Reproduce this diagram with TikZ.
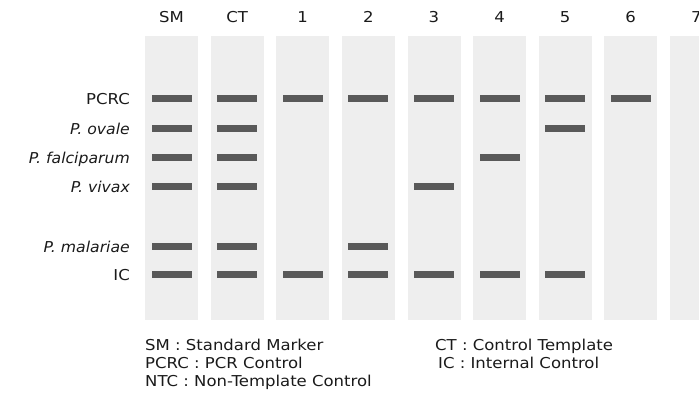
\documentclass[tikz,border=0pt]{standalone}
\usepackage{fontspec}
\setmainfont{DejaVu Sans}[FakeStretch=1.1,ItalicFeatures={FakeStretch=1.045}]
\definecolor{lanegray}{HTML}{EEEEEE}
\definecolor{bandgray}{HTML}{595959}
\definecolor{txt}{HTML}{1A1A1A}
\begin{document}
\begin{tikzpicture}[x=1pt,y=-1pt,
  lane/.style={fill=lanegray, draw=none, minimum width=53pt, minimum height=284pt, inner sep=0pt, anchor=north west},
  band/.style={fill=bandgray, draw=none, minimum width=40pt, minimum height=7pt, inner sep=0pt},
  lbl/.style={font=\fontsize{15}{17}\selectfont, text=txt, inner sep=0pt},
  rowlbl/.style={lbl, anchor=base east},
  head/.style={lbl, anchor=base},
  legend/.style={lbl, anchor=base west}]
\useasboundingbox (0,0) rectangle (699,396);
\clip (0,0) rectangle (699,396);
% lanes
\foreach \i/\name in {0/SM,1/CT,2/L1,3/L2,4/L3,5/L4,6/L5,7/L6,8/L7}{
  \node[lane] (lane\name) at ({145+65.6*\i},36) {};
}
% headers
\foreach \i/\name/\t in {0/SM/SM,1/CT/CT,2/L1/1,3/L2/2,4/L3/3,5/L4/4,6/L5/5,7/L6/6,8/L7/7}{
  \node[head] (head\name) at ({171.5+65.6*\i},22.5) {\t};
}
% row labels
\node[rowlbl] (rPCRC) at (130,104) {PCRC};
\node[rowlbl] (rOv) at (130,134) {\itshape P. ovale};
\node[rowlbl] (rFa) at (130,163) {\itshape P. falciparum};
\node[rowlbl] (rVi) at (130,192) {\itshape P. vivax};
\node[rowlbl] (rMa) at (130,252) {\itshape P. malariae};
\node[rowlbl] (rIC) at (130,280) {IC};
% bands: lane index / row y
\foreach \i/\y [count=\k] in {
  0/98.5,0/128.5,0/157.5,0/186.5,0/246.5,0/274.5,
  1/98.5,1/128.5,1/157.5,1/186.5,1/246.5,1/274.5,
  2/98.5,2/274.5,
  3/98.5,3/246.5,3/274.5,
  4/98.5,4/186.5,4/274.5,
  5/98.5,5/157.5,5/274.5,
  6/98.5,6/128.5,6/274.5,
  7/98.5}{
  \node[band] (band\k) at ({171.5+65.6*\i},\y) {};
}
% legend
\node[legend] (lgSM) at (145,350) {SM : Standard Marker};
\node[legend] (lgPCRC) at (145,368) {PCRC : PCR Control};
\node[legend] (lgNTC) at (145,386.5) {NTC : Non-Template Control};
\node[legend] (lgCT) at (435,350) {CT : Control Template};
\node[legend] (lgIC) at (438,368) {IC : Internal Control};
\end{tikzpicture}
\end{document}
